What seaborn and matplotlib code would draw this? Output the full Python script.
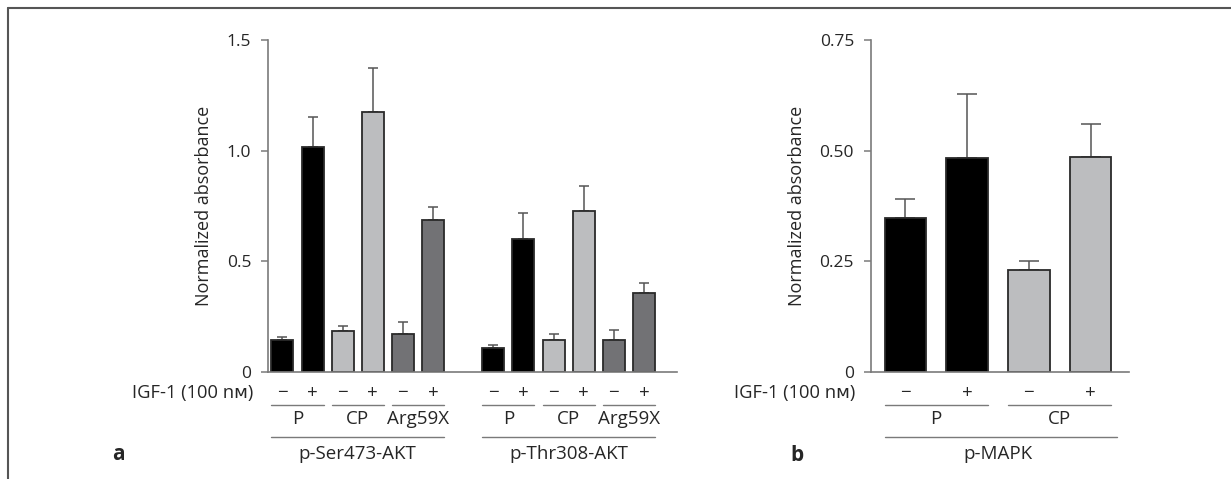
import matplotlib
matplotlib.use("Agg")
import matplotlib.pyplot as plt
from matplotlib.lines import Line2D
import pandas as pd
import seaborn as sns

# values (mean, upper error)
igf = ['\u2212', '+', '\u2212', '+', '\u2212', '+']
cells = ['P', 'P', 'CP', 'CP', 'Arg59X', 'Arg59X']
ser473_mean = [0.143, 1.015, 0.185, 1.176, 0.173, 0.687]
ser473_err = [0.017, 0.139, 0.024, 0.199, 0.054, 0.060]
thr308_mean = [0.110, 0.603, 0.145, 0.728, 0.143, 0.359]
thr308_err = [0.010, 0.115, 0.025, 0.111, 0.045, 0.041]

mapk_igf = ['\u2212', '+', '\u2212', '+']
mapk_cells = ['P', 'P', 'CP', 'CP']
mapk_mean = [0.349, 0.483, 0.231, 0.486]
mapk_err = [0.041, 0.146, 0.019, 0.074]

cell_colors = {'P': '#000000', 'CP': '#bbbdbf', 'Arg59X': '#727275'}

sns.set_style('ticks')
plt.rcParams['font.family'] = ['Open Sans', 'DejaVu Sans']
plt.rcParams['font.size'] = 12

AX_GREY = '#7a7a7a'
W_A = 0.73
W_B = 0.67
LBL = 13.5

fig = plt.figure(figsize=(12.31, 4.79), dpi=100)
ax_a = fig.add_axes([0.2177, 0.2234, 0.3323, 0.6931])
ax_b = fig.add_axes([0.7073, 0.2234, 0.2098, 0.6931])

# ---- panel a
rows = []
for marker, means in [('Ser473', ser473_mean), ('Thr308', thr308_mean)]:
    for c, s, m in zip(cells, igf, means):
        rows.append({'key': f'{marker}|{c}|{s}', 'cell': c, 'value': m})
df_a = pd.DataFrame(rows)
order_a = list(df_a['key'][:6]) + ['gap'] + list(df_a['key'][6:])
pal_a = {k: cell_colors[c] for k, c in zip(df_a['key'], df_a['cell'])}

sns.barplot(data=df_a, x='key', y='value', hue='key', order=order_a,
            hue_order=list(df_a['key']), palette=pal_a, legend=False,
            width=W_A, edgecolor='#2a2a2a', linewidth=1.3, ax=ax_a)
pos_a = [order_a.index(k) for k in df_a['key']]
ax_a.errorbar(pos_a, df_a['value'], yerr=[[0] * 12, ser473_err + thr308_err],
              fmt='none', ecolor='#555555', elinewidth=1.1, capsize=3.5,
              capthick=1.1, zorder=0)

# ---- panel b
df_b = pd.DataFrame({'key': [f'{c}|{s}' for c, s in zip(mapk_cells, mapk_igf)],
                     'cell': mapk_cells, 'value': mapk_mean})
pal_b = {k: cell_colors[c] for k, c in zip(df_b['key'], df_b['cell'])}
sns.barplot(data=df_b, x='key', y='value', hue='key', order=list(df_b['key']),
            palette=pal_b, legend=False, width=W_B, edgecolor='#2a2a2a',
            linewidth=1.3, ax=ax_b)
ax_b.errorbar(range(4), df_b['value'], yerr=[[0] * 4, mapk_err], fmt='none',
              ecolor='#555555', elinewidth=1.1, capsize=7, capthick=1.1, zorder=0)

for ax, ticks, labels in [(ax_a, [0, 0.5, 1.0, 1.5], ['0', '0.5', '1.0', '1.5']),
                          (ax_b, [0, 0.25, 0.5, 0.75], ['0', '0.25', '0.50', '0.75'])]:
    sns.despine(ax=ax)
    ax.set_ylim(0, ticks[-1])
    ax.set_yticks(ticks)
    ax.set_yticklabels(labels)
    ax.set_xticks([])
    ax.set_xlabel('')
    ax.set_ylabel('Normalized absorbance', fontsize=13, labelpad=10)
    ax.tick_params(axis='y', length=5, width=1.1, color=AX_GREY, pad=7, labelsize=12.5)
    for sp in ['left', 'bottom']:
        ax.spines[sp].set_color(AX_GREY)
        ax.spines[sp].set_linewidth(1.2)

ax_a.set_xlim(-0.48, 13.1)
ax_b.set_xlim(-0.56, 3.62)


def annotate_groups(ax, positions, signs, groups, width, marker, line_end=None):
    tr = ax.get_xaxis_transform()
    kw = dict(transform=tr, clip_on=False, color=AX_GREY, lw=1.0)
    for p, s in zip(positions, signs):
        ax.text(p, -0.062, s, transform=tr, ha='center', va='center', fontsize=LBL)
    # cell line underlines
    i = 0
    while i < len(groups):
        j = i
        while j + 1 < len(groups) and groups[j + 1] == groups[i]:
            j += 1
        x0, x1 = positions[i] - width / 2, positions[j] + width / 2
        ax.add_line(Line2D([x0, x1], [-0.098, -0.098], **kw))
        ax.text((x0 + x1) / 2, -0.143, groups[i], transform=tr, ha='center',
                va='center', fontsize=LBL)
        i = j + 1
    x0 = positions[0] - width / 2
    x1 = positions[-1] + width / 2 if line_end is None else line_end
    ax.add_line(Line2D([x0, x1], [-0.195, -0.195], **kw))
    ax.text((positions[0] - width / 2 + positions[-1] + width / 2) / 2, -0.248,
            marker, transform=tr, ha='center', va='center', fontsize=LBL)


annotate_groups(ax_a, pos_a[:6], igf, cells, W_A, 'p-Ser473-AKT')
annotate_groups(ax_a, pos_a[6:], igf, cells, W_A, 'p-Thr308-AKT')
annotate_groups(ax_b, list(range(4)), mapk_igf, mapk_cells, W_B, 'p-MAPK', line_end=3.42)

ax_a.text(-0.037, -0.062, 'IGF-1 (100 n\u1d0d)', transform=ax_a.transAxes,
          ha='right', va='center', fontsize=13.2)
ax_b.text(-0.061, -0.062, 'IGF-1 (100 n\u1d0d)', transform=ax_b.transAxes,
          ha='right', va='center', fontsize=13.2)

fig.text(0.0959, 0.052, 'a', fontsize=15, fontweight='bold', va='center', ha='center')
fig.text(0.6474, 0.050, 'b', fontsize=15, fontweight='bold', va='center', ha='center')

# figure frame (top and left edges only)
fig.add_artist(Line2D([0.0065, 1.0], [0.9833, 0.9833], transform=fig.transFigure,
                      color='#555555', lw=1.5))
fig.add_artist(Line2D([0.0065, 0.0065], [0.0, 0.9833], transform=fig.transFigure,
                      color='#555555', lw=1.5))

fig.savefig('out.png', dpi=100)
